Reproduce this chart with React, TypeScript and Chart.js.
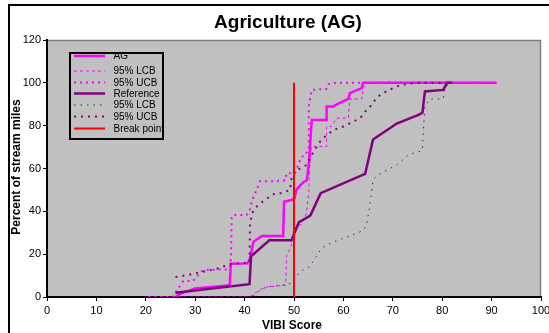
import React, { useEffect, useRef } from "react";
import { Chart, registerables } from "chart.js";

Chart.register(...registerables);

const TITLE = "Agriculture (AG)";
const X_TITLE = "VIBI Score";
const Y_TITLE = "Percent of stream miles";

const X_MIN = 0;
const X_MAX = 100;
const X_STEP = 10;
const Y_MIN = 0;
const Y_MAX = 120;
const Y_STEP = 20;

const AG_X = [26, 27, 30, 35, 37, 37.2, 40.5, 41, 41.8, 43.5, 47.8, 48, 49.5, 50.1, 50.5, 51, 52, 52.6, 53, 53.6, 56.6, 56.6, 58, 58.3, 61, 61.3, 63.7, 64, 91];
const AG_Y = [0, 1.5, 4, 5, 5.5, 15.5, 15.7, 17.3, 25.8, 28.5, 28.5, 44.5, 45.3, 46, 50, 51.5, 53.8, 54.5, 62, 82.7, 82.7, 88.9, 88.9, 89.5, 92.5, 95.2, 97.5, 100, 100];

const AG_LCB_X = [20.5, 41, 42.5, 44, 48.3, 48.5, 49.5, 50, 51.5, 52.5, 53, 53.2, 53.5, 56.6, 56.6, 57.6, 58.6, 61, 61.3, 63.7, 64, 65, 91];
const AG_LCB_Y = [0, 0, 2.5, 4.5, 5.5, 19, 24, 32, 34, 39, 49, 62, 70.3, 70.3, 79.6, 79.6, 83.5, 83.5, 92.5, 92.5, 97.5, 100, 100];

const AG_UCB_X = [20.5, 25.5, 26, 27, 27.6, 29.6, 30.3, 31.6, 36.5, 37.2, 37.4, 37.6, 40.4, 41, 41.5, 42.8, 43.1, 45.7, 48.3, 48.5, 50.2, 51, 51.5, 52.3, 53, 53, 53.6, 56.6, 57, 58.6, 91];
const AG_UCB_Y = [0, 0, 2, 5.6, 7.5, 7.5, 9.5, 12.6, 12.9, 15, 37, 38.3, 38.3, 40, 45, 52, 54, 54, 54.5, 57.8, 57.8, 62.5, 65.5, 66, 70, 89, 96.7, 97.2, 99.4, 100, 100];

const REF_X = [26, 41, 41.3, 45, 49.5, 51, 53.3, 55.4, 64.4, 66, 70.8, 75.2, 76, 76.5, 80.2, 81, 82];
const REF_Y = [2, 6, 19, 26.5, 26.5, 35, 38, 48.5, 57.5, 73.5, 81, 85, 86, 96, 96.7, 100, 100];

const REF_LCB_X = [26, 41.5, 43, 44.5, 48, 49.5, 51.2, 53.2, 55.6, 58, 61, 64, 64.7, 65.4, 66, 67, 70.8, 73.2, 75.5, 76, 76.2, 76.5, 77.5, 80.2, 80.5, 81, 82];
const REF_LCB_Y = [0, 0, 3, 4.8, 5.6, 6.4, 11.8, 14.2, 22.8, 25.8, 28.2, 31, 33.6, 43.8, 54.7, 57, 61.7, 66.4, 68, 68.7, 78, 89, 92.5, 92.5, 96.7, 99, 100];

const REF_UCB_X = [26, 28.6, 34.7, 36, 37.4, 41, 41.1, 41.8, 42.8, 44.5, 46.2, 47.5, 49.2, 49.5, 50, 52.6, 53.6, 54.2, 55.3, 56.3, 58, 60, 63.4, 64.4, 65.4, 67, 68, 69, 71.5, 74.5, 82];
const REF_UCB_Y = [9.3, 10.3, 13.4, 14.5, 15.5, 16, 35, 40.7, 43, 46, 48.5, 48.5, 50, 55.5, 58.5, 61.7, 66.4, 68.7, 72.6, 74.9, 78, 79.6, 83.5, 86.6, 88.9, 93.6, 95.2, 96.4, 99, 100, 100];

const BREAK_X = [50, 50];
const BREAK_Y = [0, 100];

const LABELS = ["AG", "95% LCB", "95% UCB", "Reference", "95% LCB", "95% UCB", "Break point"];

const FONT = "'Liberation Sans', Arial, Helvetica, sans-serif";

function pts(xs: number[], ys: number[]) {
  return xs.map((x, i) => ({ x, y: ys[i] }));
}

const MAGENTA = "#FF00FF";
const PURPLE = "#800080";
const RED = "#FF0000";

const styles = [
  { color: MAGENTA, width: 2.5, dash: [] as number[] },
  { color: MAGENTA, width: 1, dash: [3, 3] },
  { color: MAGENTA, width: 2, dash: [2, 4] },
  { color: PURPLE, width: 2.5, dash: [] as number[] },
  { color: PURPLE, width: 1, dash: [1.5, 5] },
  { color: PURPLE, width: 2, dash: [2, 5] },
  { color: RED, width: 2, dash: [] as number[] },
];

const decorPlugin = {
  id: "decor",
  beforeDraw(chart: any) {
    const { ctx, chartArea: a, width, height } = chart;
    ctx.save();
    ctx.fillStyle = "#FFFFFF";
    ctx.fillRect(0, 0, width, height);
    ctx.fillStyle = "#C0C0C0";
    ctx.fillRect(a.left, a.top, a.right - a.left, a.bottom - a.top);
    ctx.strokeStyle = "#808080";
    ctx.lineWidth = 1.5;
    ctx.beginPath();
    ctx.moveTo(a.left, a.top + 0.5);
    ctx.lineTo(a.right - 0.5, a.top + 0.5);
    ctx.lineTo(a.right - 0.5, a.bottom);
    ctx.stroke();
    ctx.strokeStyle = "#000000";
    ctx.lineWidth = 2;
    ctx.beginPath();
    ctx.moveTo(9, height + 5);
    ctx.lineTo(9, 5);
    ctx.lineTo(width + 5, 5);
    ctx.stroke();
    ctx.restore();
  },
  afterDraw(chart: any) {
    const { ctx } = chart;
    ctx.save();
    ctx.fillStyle = "#000";
    ctx.textAlign = "center";
    ctx.textBaseline = "middle";
    ctx.font = `bold 19px ${FONT}`;
    ctx.fillText(TITLE, 288, 23);
    ctx.font = `bold 12px ${FONT}`;
    ctx.fillText(X_TITLE, 292, 326);
    ctx.save();
    ctx.translate(17, 167);
    ctx.rotate(-Math.PI / 2);
    ctx.font = `bold 12px ${FONT}`;
    ctx.fillText(Y_TITLE, 0, 0);
    ctx.restore();

    // legend
    const bx = 70, by = 53, bw = 93, bh = 86;
    ctx.fillStyle = "#C0C0C0";
    ctx.fillRect(bx, by, bw, bh);
    ctx.save();
    ctx.beginPath();
    ctx.rect(bx, by, bw - 1, bh);
    ctx.clip();
    const rows = [56, 71, 82.5, 93.5, 105, 116.5, 128.5];
    ctx.textAlign = "left";
    ctx.font = `10px ${FONT}`;
    chart.data.datasets.forEach((ds: any, i: number) => {
      const y = rows[i];
      ctx.strokeStyle = ds.borderColor;
      ctx.lineWidth = ds.borderWidth;
      ctx.setLineDash(ds.borderDash || []);
      ctx.beginPath();
      ctx.moveTo(74, y);
      ctx.lineTo(105, y);
      ctx.stroke();
      ctx.setLineDash([]);
      ctx.fillStyle = "#000";
      ctx.fillText(ds.label, 113.5, y + 0.5);
    });
    ctx.restore();
    ctx.strokeStyle = "#000";
    ctx.lineWidth = 2;
    ctx.strokeRect(bx, by, bw, bh);
    ctx.restore();
  },
};

export default function App() {
  const ref = useRef<HTMLCanvasElement | null>(null);
  useEffect(() => {
    if (!ref.current) return;
    const series = [
      pts(AG_X, AG_Y),
      pts(AG_LCB_X, AG_LCB_Y),
      pts(AG_UCB_X, AG_UCB_Y),
      pts(REF_X, REF_Y),
      pts(REF_LCB_X, REF_LCB_Y),
      pts(REF_UCB_X, REF_UCB_Y),
      pts(BREAK_X, BREAK_Y),
    ];
    const datasets = series.map((data, i) => ({
      label: LABELS[i],
      data,
      showLine: true,
      borderColor: styles[i].color,
      backgroundColor: styles[i].color,
      borderWidth: styles[i].width,
      borderDash: styles[i].dash,
      pointRadius: 0,
      fill: false,
      tension: 0,
      order: series.length - i,
    }));
    const chart = new Chart(ref.current, {
      type: "scatter",
      data: { datasets },
      plugins: [decorPlugin],
      options: {
        responsive: false,
        animation: false,
        devicePixelRatio: 1,
        layout: { padding: { left: 0, right: 8, top: 40, bottom: 0 } },
        plugins: {
          legend: { display: false },
          title: { display: false },
          tooltip: { enabled: false },
        },
        scales: {
          x: {
            type: "linear",
            min: X_MIN,
            max: X_MAX,
            ticks: { stepSize: X_STEP, color: "#000", font: { family: FONT, size: 11 }, padding: 3, maxRotation: 0 },
            grid: { display: true, drawOnChartArea: false, drawTicks: true, tickLength: 4, color: "#000" },
            border: { display: true, color: "#000", width: 2 },
            afterFit: (s: any) => {
              s.height = 36;
              s.paddingLeft = 0;
              s.paddingRight = 0;
            },
          },
          y: {
            type: "linear",
            min: Y_MIN,
            max: Y_MAX,
            ticks: { stepSize: Y_STEP, color: "#000", font: { family: FONT, size: 11 }, padding: 2 },
            grid: { display: true, drawOnChartArea: false, drawTicks: true, tickLength: 4, color: "#000" },
            border: { display: true, color: "#000", width: 2 },
            afterFit: (s: any) => {
              s.width = 47;
              s.paddingTop = 0;
              s.paddingBottom = 0;
            },
          },
        },
      },
    });
    return () => chart.destroy();
  }, []);
  return (
    <div style={{ position: "absolute", left: 0, top: 0, width: 549, height: 333 }}>
      <canvas ref={ref} width={549} height={333} style={{ display: "block" }} />
    </div>
  );
}
